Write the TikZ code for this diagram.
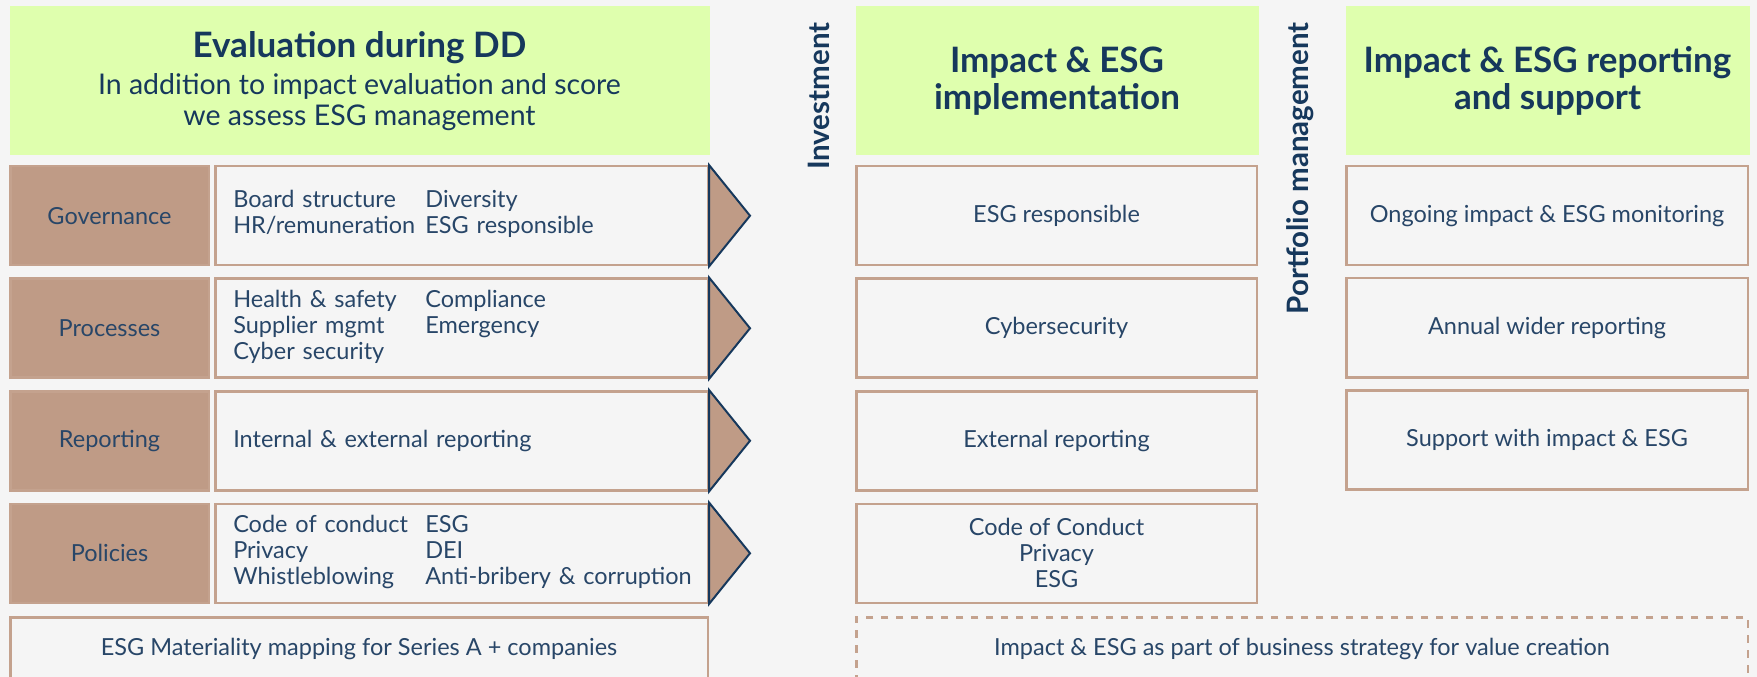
\documentclass[tikz,border=0pt]{standalone}
\usepackage{fontspec}
\setmainfont{Lato}
\usetikzlibrary{positioning}

\definecolor{esgbg}{RGB}{245,245,245}
\definecolor{esggreen}{RGB}{223,255,174}
\definecolor{esgbrown}{RGB}{191,155,134}
\definecolor{esgbrownline}{RGB}{196,162,142}
\definecolor{esgnavy}{RGB}{22,56,92}
\definecolor{esgtext}{RGB}{40,70,104}

\newcommand{\esgbody}{\fontsize{9.4}{10.4}\selectfont}
\newcommand{\esgtitle}{\fontsize{14}{14.8}\selectfont\bfseries}
\newcommand{\esgsub}{\fontsize{11.4}{12.4}\selectfont}

\begin{document}
\begin{tikzpicture}[
    x=0.4pt, y=-0.4pt,
    header/.style={fill=esggreen, minimum height=59.6pt, inner sep=0pt, align=center, text=esgnavy},
    labelbox/.style={fill=esgbrown, draw=esgbrownline, line width=1pt, minimum width=79.4pt, minimum height=39.6pt, inner sep=0pt, font=\esgbody, text=esgtext},
    itembox/.style={draw=esgbrownline, line width=1pt, minimum width=197pt, minimum height=39.6pt, text width=182.6pt, inner xsep=7.2pt, inner ysep=0pt, align=left, font=\esgbody, text=esgtext},
    stepbox/.style={draw=esgbrownline, line width=1pt, minimum width=160.2pt, minimum height=39.6pt, inner sep=0pt, align=center, font=\esgbody, text=esgtext},
    widebox/.style={draw=esgbrownline, line width=1pt, minimum height=25.6pt, inner sep=0pt, font=\esgbody, text=esgtext},
    sidelabel/.style={rotate=90, anchor=east, inner sep=0pt, font=\fontsize{11.8}{14}\selectfont\bfseries, text=esgnavy},
    tipshape/.style={fill=esgbrown, draw=esgnavy, line width=0.8pt, line join=miter}
    ]
        \useasboundingbox (0,0) rectangle (1757,677);
        \fill[esgbg] (0,0) rectangle (1757,677);

        %Headers
        \node[header, minimum width=280pt, anchor=north west, font=\esgsub]
            (evalhead) at (9,6)   {{\esgtitle Evaluation during DD}\\[2.4pt]
                                   In addition to impact evaluation and score\\
                                   we assess ESG management};
        \node[header, minimum width=161.2pt, anchor=north west, font=\esgtitle]
            (implhead) at (855,6)  {Impact \& ESG\\implementation};
        \node[header, minimum width=161.6pt, anchor=north west, font=\esgtitle]
            (rephead)  at (1345,6) {Impact \& ESG reporting\\and support};

        %Side labels
        \node[sidelabel] (invest)    at (819,22)  {Investment};
        \node[sidelabel] (portfolio) at (1300,22) {Portfolio management};

        %Evaluation rows
        \node[labelbox, anchor=north west]
            (govlab)    at (9,165)              {Governance};
        \node[itembox]
            (govitems)  [right=1.6pt of govlab]  {\begin{tabular}{@{}p{76.8pt}@{}l@{}}
                                                  Board structure & Diversity\\
                                                  HR/remuneration & ESG responsible
                                                  \end{tabular}};
        \node[labelbox]
            (proclab)   [below=4.4pt of govlab]  {Processes};
        \node[itembox]
            (procitems) [right=1.6pt of proclab] {\begin{tabular}{@{}p{76.8pt}@{}l@{}}
                                                  Health \& safety & Compliance\\
                                                  Supplier mgmt & Emergency\\
                                                  Cyber security &
                                                  \end{tabular}};
        \node[labelbox]
            (replab)    [below=4.4pt of proclab] {Reporting};
        \node[itembox]
            (repitems)  [right=1.6pt of replab]  {Internal \& external reporting};
        \node[labelbox]
            (pollab)    [below=4.4pt of replab]  {Policies};
        \node[itembox]
            (politems)  [right=1.6pt of pollab]  {\begin{tabular}{@{}p{76.8pt}@{}l@{}}
                                                  Code of conduct & ESG\\
                                                  Privacy & DEI\\
                                                  Whistleblowing & Anti-bribery \& corruption
                                                  \end{tabular}};
        \node[widebox, minimum width=279pt, anchor=north west]
            (matbox)    at (9,616)               {ESG Materiality mapping for Series A + companies};

        %Implementation rows
        \node[stepbox, anchor=north west]
            (implgov)   at (855,165)             {ESG responsible};
        \node[stepbox]
            (implcyber) [below=4.4pt of implgov]  {Cybersecurity};
        \node[stepbox]
            (implrep)   [below=4.4pt of implcyber] {External reporting};
        \node[stepbox]
            (implpol)   [below=4.4pt of implrep]  {Code of Conduct\\Privacy\\ESG};

        %Reporting rows
        \node[stepbox, minimum width=160.6pt, anchor=north west]
            (monitor)   at (1345,165)            {Ongoing impact \& ESG monitoring};
        \node[stepbox, minimum width=160.6pt]
            (annual)    [below=4.2pt of monitor]  {Annual wider reporting};
        \node[stepbox, minimum width=160.6pt]
            (support)   [below=4.2pt of annual]   {Support with impact \& ESG};

        \node[widebox, dashed, minimum width=356.6pt, anchor=north west]
            (strategy)  at (855,616)             {Impact \& ESG as part of business strategy for value creation};

        %Arrow tips
        \foreach \row in {govitems, procitems, repitems, politems}
            \draw[tipshape]
                (\row.north east) -- ([xshift=16.4pt]\row.east) -- (\row.south east) -- cycle;
    \end{tikzpicture}
\end{document}
